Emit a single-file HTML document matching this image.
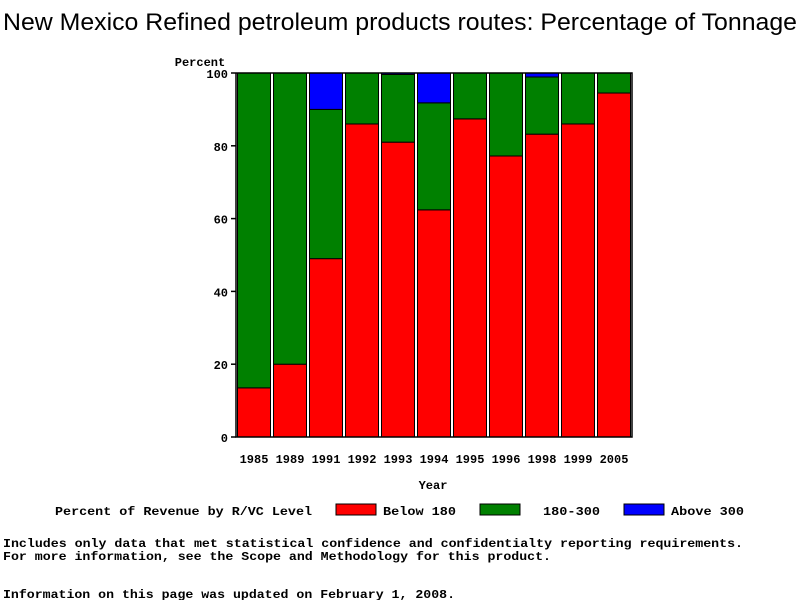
<!DOCTYPE html>
<html><head><meta charset="utf-8"><style>
body{margin:0;background:#fff;width:800px;height:600px;overflow:hidden;font-family:"Liberation Mono",monospace}
svg text{fill:#000}
</style></head><body>
<svg width="800" height="600" id="c">
<text x="3" y="30" textLength="794" lengthAdjust="spacingAndGlyphs" font-family="Liberation Sans, sans-serif" font-size="24">New Mexico Refined petroleum products routes: Percentage of Tonnage</text>
<text x="200" y="66" text-anchor="middle" font-family="Liberation Mono, monospace" font-size="12" font-weight="bold">Percent</text>
<text x="433" y="489" text-anchor="middle" font-family="Liberation Mono, monospace" font-size="12" font-weight="bold">Year</text>
<g id="plot"></g>
<g font-size="12" font-weight="bold">
<text x="55" y="515" textLength="257" lengthAdjust="spacingAndGlyphs">Percent of Revenue by R/VC Level</text>
<rect x="336" y="504" width="40" height="11" fill="#f00" stroke="#000"/>
<text x="383" y="515" textLength="73" lengthAdjust="spacingAndGlyphs">Below 180</text>
<rect x="480" y="504" width="40" height="11" fill="#008000" stroke="#000"/>
<text x="543" y="515" textLength="57" lengthAdjust="spacingAndGlyphs">180-300</text>
<rect x="624" y="504" width="40" height="11" fill="#00f" stroke="#000"/>
<text x="671" y="515" textLength="73" lengthAdjust="spacingAndGlyphs">Above 300</text>
</g>
<g font-size="12" font-weight="bold">
<text x="3" y="547" textLength="740" lengthAdjust="spacingAndGlyphs">Includes only data that met statistical confidence and confidentialty reporting requirements.</text>
<text x="3" y="560" textLength="548" lengthAdjust="spacingAndGlyphs">For more information, see the Scope and Methodology for this product.</text>
<text x="3" y="598" textLength="452" lengthAdjust="spacingAndGlyphs">Information on this page was updated on February 1, 2008.</text>
</g>
</svg>
<script>
const years=["1985","1989","1991","1992","1993","1994","1995","1996","1998","1999","2005"];
const below180=[13.5,20,49,86,81,62.4,87.4,77.2,83.2,86,94.5];
const mid180to300=[86.5,80,41,14,18.6,29.4,12.6,22.8,15.7,14,5.5];
const above300=[0,0,10,0,0.4,8.2,0,0,1.1,0,0];
const yTicks=[0,20,40,60,80,100];
const NS="http://www.w3.org/2000/svg";
const g=document.getElementById('plot');
const x0=236,x1=632,yTop=73,yBot=437;
const y=v=>yBot-(v/100)*(yBot-yTop);
const pitch=(x1-x0)/years.length;
const xc=i=>x0+pitch*(i+0.5);
function mk(t,a){const e=document.createElementNS(NS,t);for(const k in a)e.setAttribute(k,a[k]);g.appendChild(e);return e;}
const series=[[below180,'#f00','below-180'],[mid180to300,'#008000','180-300'],[above300,'#00f','above-300']];
years.forEach((yr,i)=>{
 let base=0;
 series.forEach(([arr,col,nm])=>{
  const v=arr[i];
  if(v>0){
   const r=mk('rect',{x:xc(i)-16.5,y:y(base+v),width:33,height:y(base)-y(base+v),fill:col,stroke:'#000','stroke-width':1});
   
   
  }
  base+=v;
 });
 const t=mk('text',{x:xc(i),y:463,'text-anchor':'middle','font-size':12,'font-weight':'bold'});
 t.textContent=yr;
 
 
});
const ax=mk('path',{d:`M${x0} ${yTop}V${yBot}H${x1}V${yTop}H${x0}`,fill:'none',stroke:'#000','stroke-width':1.5});


yTicks.forEach(v=>{
 const l=mk('line',{x1:x0-5,x2:x0,y1:y(v),y2:y(v),stroke:'#000','stroke-width':1.5});
 
 
 const t=mk('text',{x:x0-8,y:y(v)+5,'text-anchor':'end','font-size':12,'font-weight':'bold'});
 t.textContent=v;
 
 
});
</script>
</body></html>
